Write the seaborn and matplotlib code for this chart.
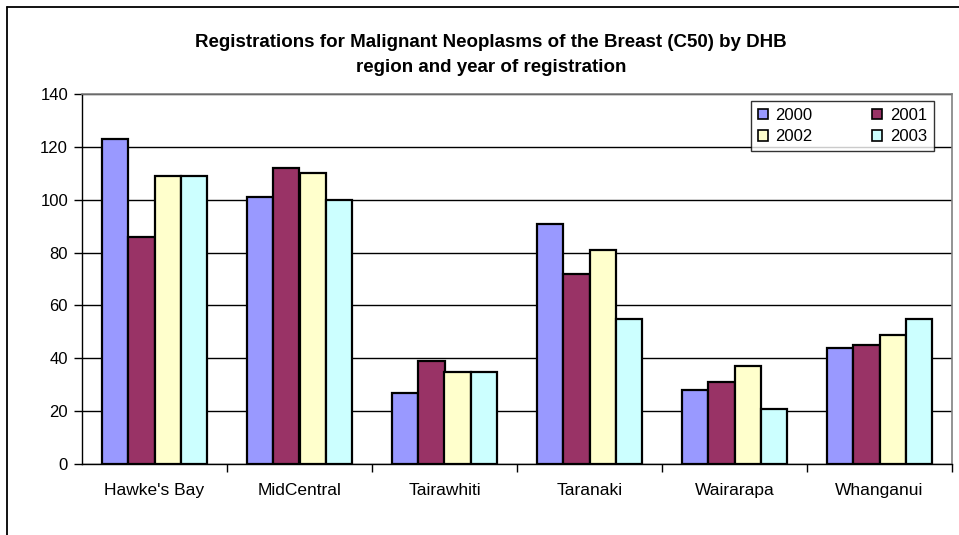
import matplotlib
matplotlib.use("Agg")
import matplotlib.pyplot as plt
import seaborn as sns
import pandas as pd
import numpy as np
from matplotlib.lines import Line2D
from matplotlib.ticker import FixedLocator

regions = ["Hawke's Bay", "MidCentral", "Tairawhiti", "Taranaki", "Wairarapa", "Whanganui"]
years = ["2000", "2001", "2002", "2003"]
v2000 = [123, 101, 27, 91, 28, 44]
v2001 = [86, 112, 39, 72, 31, 45]
v2002 = [109, 110, 35, 81, 37, 49]
v2003 = [109, 100, 35, 55, 21, 55]
colors = ["#9999FF", "#993366", "#FFFFCC", "#CCFFFF"]
yticks = [0, 20, 40, 60, 80, 100, 120, 140]
title = "Registrations for Malignant Neoplasms of the Breast (C50) by DHB\nregion and year of registration"

rows = []
for yr, vals in zip(years, [v2000, v2001, v2002, v2003]):
    for r, v in zip(regions, vals):
        rows.append({"region": r, "year": yr, "value": v})
df = pd.DataFrame(rows)

sns.set_style("white")
plt.rcParams['font.family'] = ['Liberation Sans', 'DejaVu Sans']
plt.rcParams['text.color'] = 'black'
plt.rcParams['xtick.color'] = 'black'
plt.rcParams['ytick.color'] = 'black'
plt.rcParams['xtick.labelcolor'] = 'black'
plt.rcParams['ytick.labelcolor'] = 'black'

fig = plt.figure(figsize=(9.59, 5.35), dpi=100)
W, H = 959, 535
ax = fig.add_axes([82 / W, 1 - 464 / H, (952 - 82) / W, (464 - 94) / H])

sns.barplot(data=df, x="region", y="value", hue="year", order=regions,
            hue_order=years, palette=colors, edgecolor="black", linewidth=1.6,
            width=0.72, gap=0, ax=ax, errorbar=None, saturation=1, zorder=3)

ax.set_ylim(0, 140)
ax.set_xlim(-0.5, len(regions) - 0.5)
ax.set_yticks(yticks)
ax.yaxis.grid(True, color="black", linewidth=1.0, zorder=0)
ax.set_axisbelow(True)
ax.set_xlabel("")
ax.set_ylabel("")
ax.tick_params(axis="y", labelsize=12, length=6, width=1, color="black", direction="out", left=True, pad=4)
ax.tick_params(axis="x", which="major", labelsize=12.5, length=0, pad=14)
ax.xaxis.set_minor_locator(FixedLocator(np.arange(0.5, len(regions) - 0.5 + 0.01, 1.0)))
ax.tick_params(axis="x", which="minor", length=6, width=1, color="black", direction="out", bottom=True)

for s in ["left", "bottom"]:
    ax.spines[s].set_color("black")
    ax.spines[s].set_linewidth(1.0)
for s in ["top", "right"]:
    ax.spines[s].set_color("#808080")
    ax.spines[s].set_linewidth(1.2)

handles = [plt.Rectangle((0, 0), 1, 1, facecolor=c, edgecolor="black", linewidth=1.2) for c in colors]
order = [0, 2, 1, 3]
leg = ax.legend([handles[i] for i in order], [years[i] for i in order], ncol=2,
                loc="upper right", bbox_to_anchor=(934 / W, 1 - 101 / H),
                bbox_transform=fig.transFigure, frameon=True, fancybox=False, fontsize=12,
                handlelength=0.6, handleheight=0.6, handletextpad=0.45, columnspacing=3.6,
                labelspacing=0.38, borderpad=0.42, borderaxespad=0, edgecolor="black")
leg.get_frame().set_linewidth(1.0)
leg.set_zorder(5)

fig.text(491 / W, 1 - 55 / H, title, ha="center", va="center", fontsize=13.5,
         fontweight="bold", linespacing=1.65)

fig.add_artist(Line2D([7 / W, 7 / W], [0, 1 - 7 / H], transform=fig.transFigure, color="black", linewidth=1.3))
fig.add_artist(Line2D([7 / W, 1], [1 - 7 / H, 1 - 7 / H], transform=fig.transFigure, color="black", linewidth=1.3))

fig.savefig("out.png", dpi=100)
